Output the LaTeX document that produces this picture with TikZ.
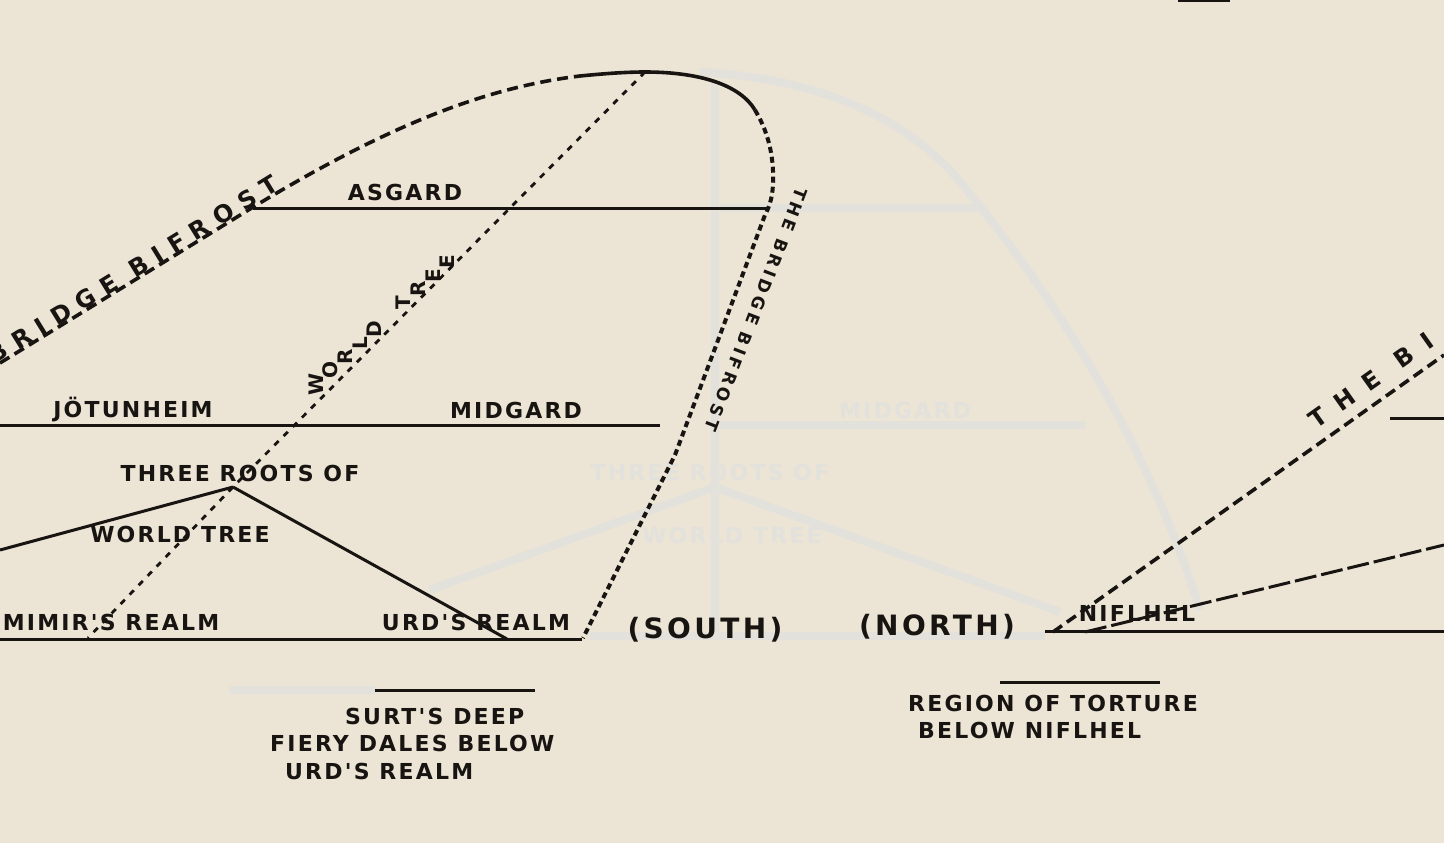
\documentclass[tikz,border=0pt]{standalone}
\usepackage{fontspec}
\setmainfont{DejaVu Sans}
\newfontfamily\labfont[LetterSpace=10]{DejaVu Sans Bold}
\newfontfamily\labwide[LetterSpace=38]{DejaVu Sans Bold}
\newfontfamily\labmid[LetterSpace=22]{DejaVu Sans Bold}
\newfontfamily\labvwide[LetterSpace=60]{DejaVu Sans Bold}
\newfontfamily\labbold[LetterSpace=12]{DejaVu Sans Bold}
\newfontfamily\letfont{DejaVu Sans Bold}
\definecolor{paper}{HTML}{ECE5D5}
\definecolor{ink}{HTML}{171411}
\definecolor{ghostc}{HTML}{E3E1DC}
\begin{document}
\begin{tikzpicture}[x=1pt,y=-1pt,
  ln/.style={draw=ink,line width=3pt},
  dotln/.style={draw=ink,line width=2.8pt,dash pattern=on 6pt off 7pt},
  bifl/.style={draw=ink,line width=3.6pt,dash pattern=on 11pt off 6pt},
  bifs/.style={draw=ink,line width=3.6pt},
  bifd/.style={draw=ink,line width=4pt,dash pattern=on 6pt off 4pt},
  longdash/.style={draw=ink,line width=3pt,dash pattern=on 22pt off 5pt},
  lbl/.style={text=ink,inner sep=0pt,font=\labfont\fontsize{22}{25}\selectfont},
  biglbl/.style={text=ink,inner sep=0pt,font=\labbold\fontsize{28}{30}\selectfont},
  rotlbl/.style={text=ink,inner sep=0pt,font=\labwide\fontsize{24}{26}\selectfont},
  rotmid/.style={text=ink,inner sep=0pt,font=\labmid\fontsize{17}{19}\selectfont},
  rotedge/.style={text=ink,inner sep=0pt,font=\labvwide\fontsize{24}{26}\selectfont},
  letter/.style={text=ink,inner sep=0pt,font=\letfont\fontsize{20}{22}\selectfont,rotate=90},
  ghostln/.style={draw=ghostc,line width=8pt},
  ghostlbl/.style={text=ghostc,inner sep=0pt,font=\labfont\fontsize{22}{25}\selectfont}
]
\fill[paper] (0,0) rectangle (1444,843);
\clip (0,0) rectangle (1444,843);

% ---------- faint show-through ----------
\coordinate (gtop) at (715,80);
\coordinate (gbot) at (715,640);
\coordinate (groot) at (715,487);
\path[ghostln] (gtop) -- (gbot);
\path[ghostln] (700,72) .. controls (830,80) and (900,120) .. (950,170)
   .. controls (1060,300) and (1150,450) .. (1200,610);
\path[ghostln] (720,208) -- (980,208);
\path[ghostln] (720,425) -- (1085,425);
\path[ghostln] (groot) -- (430,590);
\path[ghostln] (groot) -- (1060,612);
\path[ghostln] (590,636) -- (1045,636);
\path[ghostln] (230,690) -- (375,690);
\node[ghostlbl] (gmid) at (905,410) {MIDGARD};
\node[ghostlbl] (gthree) at (710,472) {THREE ROOTS OF};
\node[ghostlbl] (gworld) at (732,535) {WORLD TREE};

% ---------- key points ----------
\coordinate (top) at (645,72);
\coordinate (root) at (233,487);
\coordinate (mimirend) at (88,638);
\coordinate (leftroot) at (0,550);
\coordinate (urdroot) at (507,639);

% ---------- horizontal levels ----------
\coordinate (asgL) at (253,208);
\coordinate (asgR) at (768,208);
\coordinate (midL) at (0,425);
\coordinate (midR) at (660,425);
\coordinate (lowL) at (0,639);
\coordinate (lowR) at (582,639);
\coordinate (nifL) at (1045,631);
\coordinate (nifR) at (1444,631);
\coordinate (edgeL) at (1390,418);
\coordinate (edgeR) at (1444,418);
\coordinate (surtL) at (375,690);
\coordinate (surtR) at (535,690);
\coordinate (regL) at (1000,682);
\coordinate (regR) at (1160,682);
\path[ln] (asgL) -- (asgR);
\path[ln] (midL) -- (midR);
\path[ln] (lowL) -- (lowR);
\path[ln] (nifL) -- (nifR);
\path[ln] (edgeL) -- (edgeR);
\path[ln] (surtL) -- (surtR);
\path[ln] (regL) -- (regR);

% ---------- roots ----------
\path[ln] (root) -- (leftroot);
\path[ln] (root) -- (urdroot);
\path[dotln] (top) -- (root) -- (mimirend);

% ---------- Bifrost ----------
\coordinate (bfL) at (0,363);
\coordinate (bfA) at (250,209);
\coordinate (bfB) at (580,76);
\coordinate (bfC) at (755,110);
\coordinate (bfD) at (765,215);
\coordinate (bfE) at (675,455);
\coordinate (bfF) at (583,638);
\path[bifl] (bfL) -- (bfA) .. controls (380,130) and (480,88) .. (bfB);
\path[bifs] (bfB) .. controls (610,73) and (630,72) .. (top)
   .. controls (700,72) and (740,85) .. (bfC);
\path[bifd] (bfC) .. controls (770,135) and (774,160) .. (773,185)
   .. controls (772,200) and (769,207) .. (bfD) -- (bfE) -- (bfF);

% right side
\coordinate (rbA) at (1053,632);
\coordinate (rbB) at (1444,355);
\coordinate (rlA) at (1085,632);
\coordinate (rlB) at (1444,545);
\path[bifl] (rbA) -- (rbB);
\path[longdash] (rlA) -- (rlB);

% top-edge mark
\coordinate (mkA) at (1178,1);
\coordinate (mkB) at (1230,1);
\path[ln] (mkA) -- (mkB);

% ---------- labels ----------
\node[lbl] (asgard) at (405,192) {ASGARD};
\node[lbl] (jotun) at (133,409) {JÖTUNHEIM};
\node[lbl] (midgard) at (516,410) {MIDGARD};
\node[lbl] (three) at (240,473) {THREE ROOTS OF};
\node[lbl] (wtree) at (180,534) {WORLD TREE};
\node[lbl] (mimir) at (111,622) {MIMIR'S REALM};
\node[lbl] (urd) at (476,622) {URD'S REALM};
\node[biglbl] (south) at (705,630) {(SOUTH)};
\node[biglbl] (north) at (937,627) {(NORTH)};
\node[lbl] (nifl) at (1137,613) {NIFLHEL};
\node[lbl,anchor=west] (surt1) at (345,716) {SURT'S DEEP};
\node[lbl,anchor=west] (surt2) at (270,743) {FIERY DALES BELOW};
\node[lbl,anchor=west] (surt3) at (285,771) {URD'S REALM};
\node[lbl,anchor=west] (reg1) at (908,703) {REGION OF TORTURE};
\node[lbl,anchor=west] (reg2) at (918,730) {BELOW NIFLHEL};

% rotated labels
\node[rotlbl,anchor=base east,rotate=31.6] (bifleft) at (281,189) {BRIDGE BIFROST};
\node[rotmid,anchor=base west,rotate=-111] (bifmid) at (797,186) {THE BRIDGE BIFROST};
\node[rotedge,anchor=base west,rotate=35.3] (bifright) at (1316,430) {THE BI};

% stepped letters along the tree line
\foreach \ch/\j [count=\i] in {W/0,O/1,R/2,L/3,D/4,T/6,R/7,E/8,E/9}
  \node[letter] (wl\i) at ({316+\j*14.6},{384-\j*13.6}) {\ch};
\end{tikzpicture}
\end{document}
